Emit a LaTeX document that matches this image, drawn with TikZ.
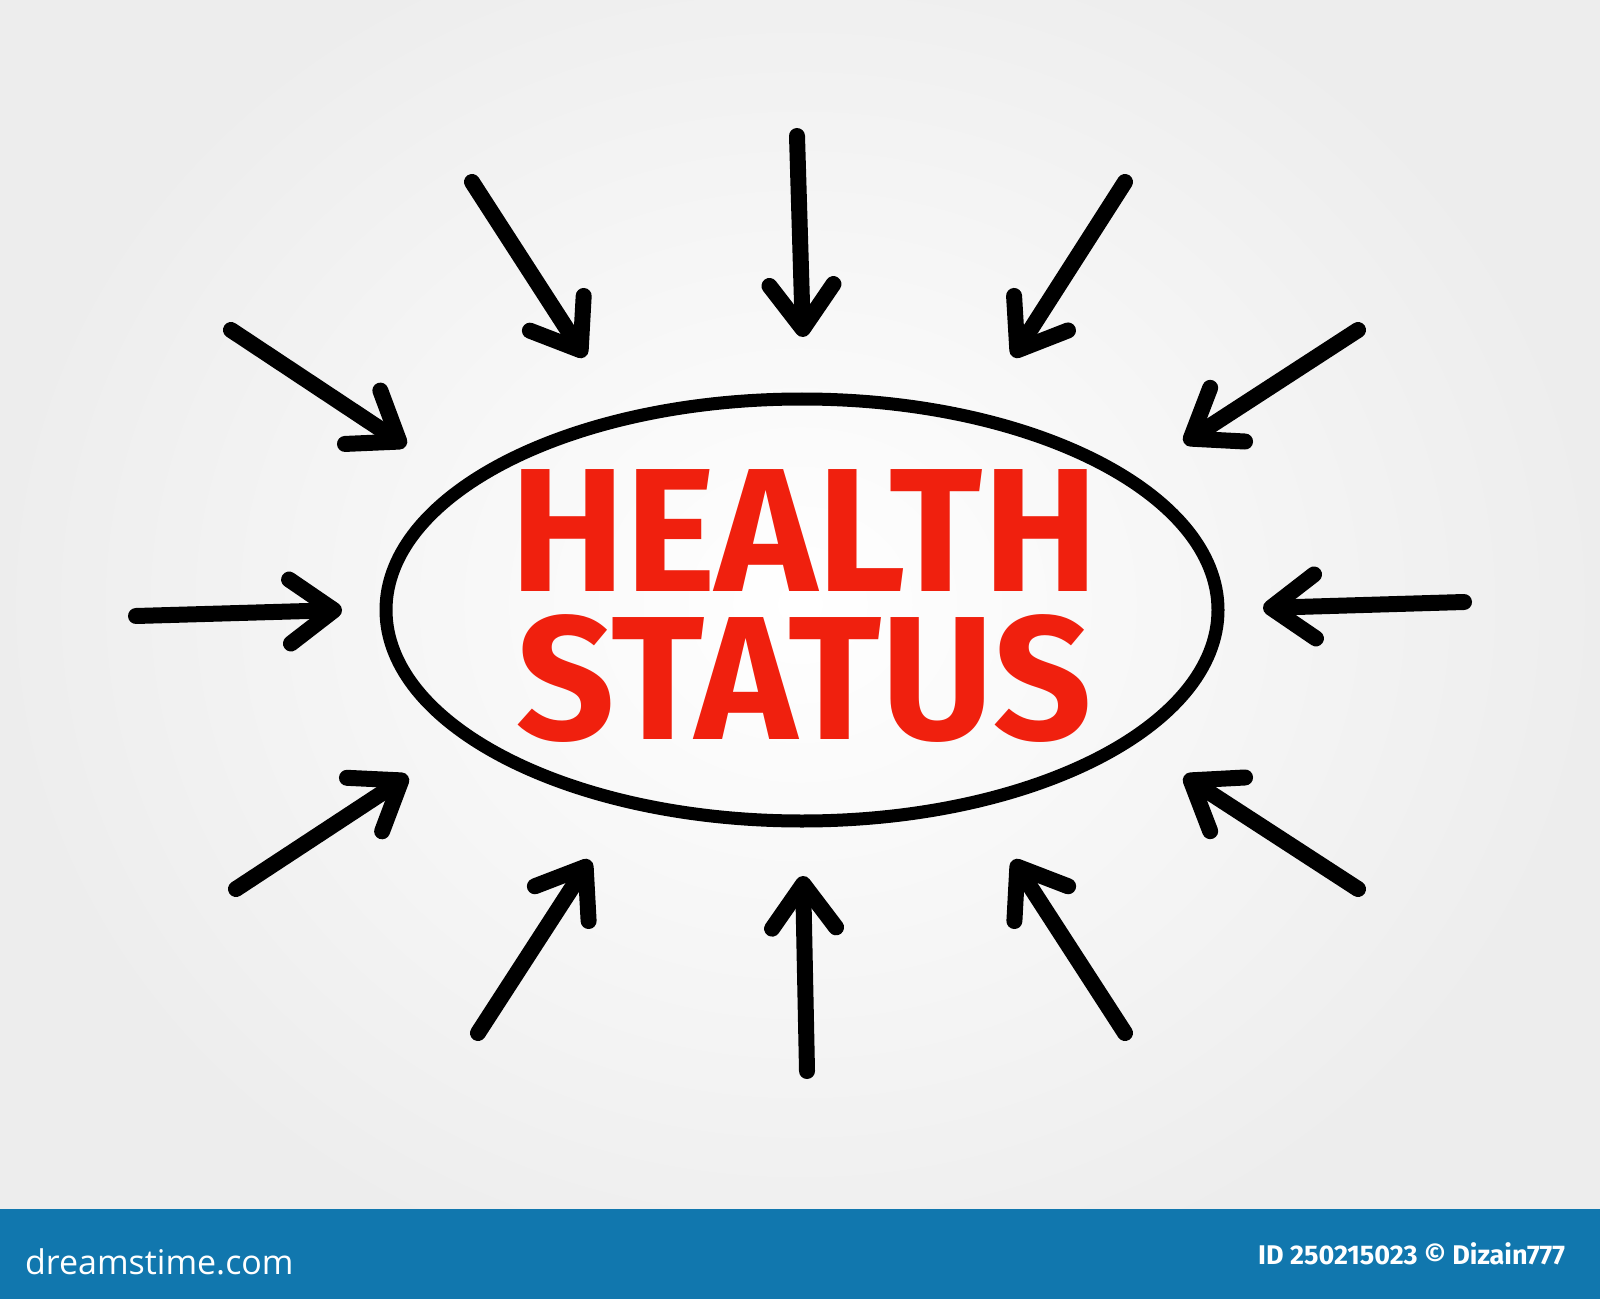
\documentclass[tikz,border=0pt]{standalone}
\usepackage{fontspec}
\usepackage{xcolor}
\usepackage{tikz}
\usetikzlibrary{shapes.geometric,arrows.meta}
\setmainfont{Fira Sans}
\newfontfamily\barfont{Open Sans}

\definecolor{titlered}{RGB}{240,32,14}
\definecolor{barblue}{RGB}{17,119,174}

\begin{document}
\begin{tikzpicture}[x=0.5pt,y=-0.5pt]
	\useasboundingbox (0,0) rectangle (1600,1299);
	\shade[inner color=white,outer color=black!7] (0,-100) rectangle (1600,1309);
	\fill[barblue] (0,1209) rectangle (1600,1299);

	\node[draw,ellipse,line width=6.5pt,minimum width=416pt,minimum height=211pt,inner sep=0pt] at (802,610) (status) {};
	\node[text=titlered,align=center,xscale=0.98,font=\bfseries\fontsize{88}{74}\selectfont] at (804,606) (title) {HEALTH\\STATUS};

	\foreach \sx/\sy/\ex/\ey [count=\i] in {797/136/803/337, 472/182/585/357, 1125/182/1013/357, 231/330/406/446, 1358/330/1184/443, 136/616/342/610, 1464/602/1263/608, 236/889/408/776, 1358/889/1184/776, 478/1033/590/860, 807/1071/803/876, 1125/1033/1013/860} {
		\coordinate (s\i) at (\sx,\sy);
		\coordinate (e\i) at (\ex,\ey);
		\draw[line width=8pt,line cap=round,-{Straight Barb[length=22pt,width=32pt,round]}] (s\i) -- (e\i);
	}

	\node[anchor=west,text=white,font=\barfont\fontsize{17}{17}\selectfont] at (18,1262) (site) {dreamstime.com};
	\node[anchor=east,text=white,font=\bfseries\fontsize{13.5}{13.5}\selectfont] at (1572,1254) (credit) {ID 250215023 \textcopyright{} Dizain777};
\end{tikzpicture}
\end{document}
